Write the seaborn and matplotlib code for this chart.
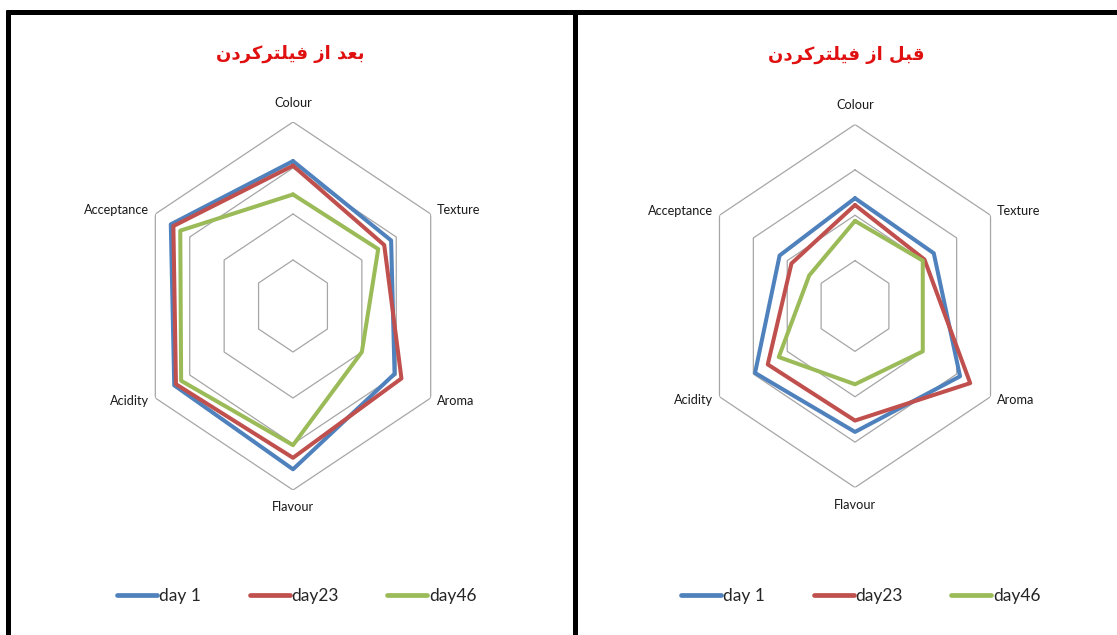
import numpy as np
import pandas as pd
import matplotlib
matplotlib.use("Agg")
import matplotlib.pyplot as plt
import seaborn as sns
from matplotlib.lines import Line2D

# ---------------- data ----------------
categories = ["Colour", "Texture", "Aroma", "Flavour", "Acidity", "Acceptance"]
series = ["day 1", "day23", "day46"]

after_day1 = [6.3, 5.7, 5.9, 7.1, 6.9, 7.1]
after_day23 = [6.1, 5.3, 6.3, 6.6, 6.8, 6.95]
after_day46 = [4.85, 4.95, 4.0, 6.05, 6.5, 6.55]

before_day1 = [4.75, 4.65, 6.2, 5.55, 5.9, 4.45]
before_day23 = [4.45, 4.1, 6.8, 5.05, 5.15, 3.75]
before_day46 = [3.75, 4.0, 4.0, 3.45, 4.5, 2.7]

rings = [2, 4, 6, 8]
title_after = "بعد از فیلترکردن"
title_before = "قبل از فیلترکردن"

colors = ["#4F81BD", "#C0504D", "#9BBB59"]

# ---------------- minimal Arabic/Persian shaping ----------------
FORMS = {
    "ب": ("\uFE8F", "\uFE90", "\uFE91", "\uFE92"),
    "ع": ("\uFEC9", "\uFECA", "\uFECB", "\uFECC"),
    "د": ("\uFEA9", "\uFEAA", None, None),
    "ا": ("\uFE8D", "\uFE8E", None, None),
    "ز": ("\uFEAF", "\uFEB0", None, None),
    "ر": ("\uFEAD", "\uFEAE", None, None),
    "ف": ("\uFED1", "\uFED2", "\uFED3", "\uFED4"),
    "ی": ("\uFBFC", "\uFBFD", "\uFBFE", "\uFBFF"),
    "ل": ("\uFEDD", "\uFEDE", "\uFEDF", "\uFEE0"),
    "ت": ("\uFE95", "\uFE96", "\uFE97", "\uFE98"),
    "ک": ("\uFB8E", "\uFB8F", "\uFB90", "\uFB91"),
    "ن": ("\uFEE5", "\uFEE6", "\uFEE7", "\uFEE8"),
    "ق": ("\uFED5", "\uFED6", "\uFED7", "\uFED8"),
}


def shape(text):
    out = []
    n = len(text)
    for i, ch in enumerate(text):
        if ch not in FORMS:
            out.append(ch)
            continue
        prev = text[i - 1] if i > 0 else None
        nxt = text[i + 1] if i < n - 1 else None
        jp = prev in FORMS and FORMS[prev][2] is not None
        jn = nxt in FORMS and FORMS[ch][2] is not None
        iso, fin, ini, med = FORMS[ch]
        if jp and jn:
            out.append(med)
        elif jn:
            out.append(ini)
        elif jp:
            out.append(fin)
        else:
            out.append(iso)
    return "".join(out)[::-1]


# ---------------- figure ----------------
sns.set_theme(style="white")
plt.rcParams["font.family"] = ["Lato", "DejaVu Sans"]

W, H = 1117, 635
fig = plt.figure(figsize=(W / 100, H / 100), dpi=100)
fig.patch.set_facecolor("white")


def box(cx, cy, rh, rv):
    return [(cx - rh) / W, 1 - (cy + rv) / H, 2 * rh / W, 2 * rv / H]


theta = np.linspace(0, 2 * np.pi, len(categories), endpoint=False)

label_offsets = {
    "Colour": ((0, 14), "center", "center"),
    "Texture": ((4.5, 3), "left", "center"),
    "Aroma": ((4.5, -2), "left", "center"),
    "Flavour": ((0, -12.5), "center", "center"),
    "Acidity": ((-4.5, -2), "right", "center"),
    "Acceptance": ((-4.5, 3), "right", "center"),
}


def radar(ax, vals, title, title_xy, legend_xy):
    ax.set_aspect("auto")
    ax.set_theta_zero_location("N")
    ax.set_theta_direction(-1)
    ax.set_facecolor("none")
    tt = np.append(theta, theta[0])
    for r in rings:
        ax.plot(tt, [r] * len(tt), color="#A6A6A6", lw=0.9, zorder=1)
    rows = []
    for name, v in zip(series, vals):
        vv = list(v) + [v[0]]
        for t, val in zip(tt, vv):
            rows.append({"theta": t, "value": val, "day": name})
    df = pd.DataFrame(rows)
    sns.lineplot(data=df, x="theta", y="value", hue="day", sort=False,
                 estimator=None, palette=colors, lw=2.9, ax=ax,
                 legend=False, zorder=3)
    ax.set_ylim(0, rings[-1])
    ax.grid(False)
    ax.spines["polar"].set_visible(False)
    ax.set_xticks([])
    ax.set_yticks([])
    ax.set_xlabel("")
    ax.set_ylabel("")
    for c, t in zip(categories, theta):
        off, ha, va = label_offsets[c]
        ax.annotate(c, xy=(t, rings[-1]), xytext=off, textcoords="offset points",
                    ha=ha, va=va, fontsize=9.2, color="#1a1a1a",
                    annotation_clip=False)
    fig.text(title_xy[0] / W, 1 - title_xy[1] / H, shape(title),
             family=["DejaVu Sans"], fontweight="bold", fontsize=13,
             color="#E01010", ha="center", va="center")
    handles = [Line2D([], [], color=c, lw=3.4) for c in colors]
    fig.legend(handles, series, loc="center",
               bbox_to_anchor=(legend_xy[0] / W, 1 - legend_xy[1] / H),
               ncol=3, frameon=False, fontsize=12.5, handlelength=2.3,
               handletextpad=0.1, columnspacing=2.8)


axL = fig.add_axes(box(293, 306, 159, 184), projection="polar")
radar(axL, [after_day1, after_day23, after_day46], title_after, (290, 54), (297, 596))

axR = fig.add_axes(box(855, 306, 156.5, 181.5), projection="polar")
radar(axR, [before_day1, before_day23, before_day46], title_before, (846, 55), (861, 596))

# panel borders
lw_b = 3.6
fig.add_artist(Line2D([6 / W, 1], [1 - 11.5 / H] * 2, transform=fig.transFigure,
                      color="black", lw=lw_b, solid_capstyle="butt"))
fig.add_artist(Line2D([8 / W] * 2, [0, 1 - 10 / H], transform=fig.transFigure,
                      color="black", lw=lw_b, solid_capstyle="butt"))
fig.add_artist(Line2D([574.5 / W] * 2, [0, 1 - 10 / H], transform=fig.transFigure,
                      color="black", lw=lw_b, solid_capstyle="butt"))

fig.savefig("out.png", dpi=100, facecolor="white")
